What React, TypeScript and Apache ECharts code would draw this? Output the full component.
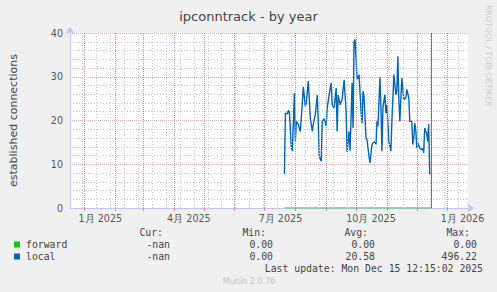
import React, { useEffect, useRef } from 'react';
import * as echarts from 'echarts';

// ---------- data ----------
const title = 'ipconntrack - by year';
const yAxisName = 'established connections';
const watermark = 'RRDTOOL / TOBI OETIKER';
const lastUpdate = 'Last update: Mon Dec 15 12:15:02 2025';
const footer = 'Munin 2.0.76';

const yMin = 0;
const yMax = 40;
const yInterval = 10;

// graph window (400 days)
const rangeStart = '2024-12-17T12:00:00Z';
const rangeDays = 400;
const nowTime = '2025-12-15T12:15:02Z';

const xLabelDates = ['2025-01-17', '2025-04-16', '2025-07-17', '2025-10-16', '2026-01-16'];
const xLabelTexts = ['1月 2025', '4月 2025', '7月 2025', '10月 2025', '1月 2026'];
const monthLineDates = [
  '2025-01-01', '2025-02-01', '2025-03-01', '2025-04-01', '2025-05-01', '2025-06-01', '2025-07-01',
  '2025-08-01', '2025-09-01', '2025-10-01', '2025-11-01', '2025-12-01', '2026-01-01',
];
const minorLineFirst = '2024-12-30';
const minorLineStepDays = 14;

const localDates = [
  '2025-07-21', '2025-07-22', '2025-07-24', '2025-07-25', '2025-07-26', '2025-07-28', '2025-07-29', '2025-07-31', '2025-08-01', '2025-08-02',
  '2025-08-04', '2025-08-06', '2025-08-08', '2025-08-09', '2025-08-11', '2025-08-12', '2025-08-14', '2025-08-16', '2025-08-18', '2025-08-19',
  '2025-08-21', '2025-08-23', '2025-08-24', '2025-08-25', '2025-08-27', '2025-08-28', '2025-08-30', '2025-09-01', '2025-09-02', '2025-09-04',
  '2025-09-06', '2025-09-07', '2025-09-09', '2025-09-11', '2025-09-12', '2025-09-13', '2025-09-15', '2025-09-17', '2025-09-18', '2025-09-19',
  '2025-09-21', '2025-09-22', '2025-09-24', '2025-09-25', '2025-09-27', '2025-09-28', '2025-09-29', '2025-09-30', '2025-10-02', '2025-10-03',
  '2025-10-04', '2025-10-06', '2025-10-07', '2025-10-08', '2025-10-09', '2025-10-11', '2025-10-12', '2025-10-14', '2025-10-15', '2025-10-17',
  '2025-10-18', '2025-10-20', '2025-10-21', '2025-10-22', '2025-10-23', '2025-10-25', '2025-10-26', '2025-10-27', '2025-10-28', '2025-10-30',
  '2025-10-31', '2025-11-01', '2025-11-03', '2025-11-05', '2025-11-06', '2025-11-08', '2025-11-10', '2025-11-11', '2025-11-12', '2025-11-13',
  '2025-11-14', '2025-11-16', '2025-11-17', '2025-11-18', '2025-11-20', '2025-11-21', '2025-11-23', '2025-11-24', '2025-11-26', '2025-11-27',
  '2025-11-28', '2025-11-29', '2025-11-30', '2025-12-01', '2025-12-02', '2025-12-04', '2025-12-06', '2025-12-07', '2025-12-08', '2025-12-09',
  '2025-12-10', '2025-12-11', '2025-12-12', '2025-12-13', '2025-12-14', '2025-12-15',
];
const localValues = [
  7.8, 21.7, 21.5, 22.3, 21.9, 13.7, 13.0, 26.3, 15.2, 19.8,
  19.1, 17.5, 24.0, 27.7, 23.2, 24.2, 29.0, 20.6, 17.5, 19.1,
  21.3, 25.8, 19.8, 11.8, 10.7, 19.8, 20.4, 18.7, 22.9, 25.9,
  28.6, 23.6, 22.9, 27.4, 17.5, 25.8, 23.6, 24.8, 27.1, 29.3,
  22.1, 12.8, 17.5, 13.1, 28.6, 18.3, 38.1, 38.5, 29.7, 29.6,
  30.5, 22.1, 19.4, 26.7, 25.5, 16.0, 15.6, 11.8, 10.3, 14.5,
  14.9, 15.2, 14.5, 19.8, 18.7, 29.9, 22.9, 13.0, 22.9, 25.9,
  21.7, 23.6, 15.2, 13.0, 19.8, 30.5, 25.9, 26.7, 34.7, 25.1,
  19.8, 29.7, 27.1, 24.8, 25.1, 27.1, 25.1, 19.8, 19.8, 14.5,
  16.0, 19.4, 17.9, 13.7, 14.9, 13.7, 13.3, 13.7, 12.6, 18.3,
  17.5, 17.1, 15.2, 19.2, 7.8, 7.8,
];
const forwardDates = ['2025-07-21', '2025-12-15'];
const forwardValues = [0, 0];

const legendNames = ['forward', 'local'];
const legendColors = ['#00CC00', '#0066B3'];
const legendHeaders = ['Cur:', 'Min:', 'Avg:', 'Max:'];
const curValues = ['-nan', '-nan'];
const minValues = ['0.00', '0.00'];
const avgValues = ['0.00', '20.58'];
const maxValues = ['0.00', '496.22'];

// ---------- helpers ----------
const DAY = 86400000;
const toTime = (s: string) => (s.length === 10 ? Date.parse(s + 'T00:00:00Z') : Date.parse(s));

const RED_GRID_H = '#eca8a8';
const RED_GRID_V = '#e08a8a';
const GRAY_GRID = '#c4c4c4';
const AXIS_COLOR = '#c4c4f4';
const SANS = 'DejaVu Sans';
const MONO = 'DejaVu Sans Mono';
const TEXT = '#444';

export default function App() {
  const ref = useRef<HTMLDivElement>(null);

  useEffect(() => {
    if (!ref.current) return;
    const chart = echarts.init(ref.current, undefined, { renderer: 'svg' });

    const xMin = toTime(rangeStart);
    const xMax = xMin + rangeDays * DAY;
    const labelTimes = xLabelDates.map(toTime);
    const monthTimes = monthLineDates.map(toTime);
    const minorTimes: number[] = [];
    for (let t = toTime(minorLineFirst); t < xMax; t += minorLineStepDays * DAY) minorTimes.push(t);

    const gridLines: any[] = [];
    minorTimes.forEach((t) =>
      gridLines.push({ xAxis: t, lineStyle: { color: GRAY_GRID, type: [1, 2], width: 1 } })
    );
    monthTimes.forEach((t) =>
      gridLines.push({ xAxis: t, lineStyle: { color: RED_GRID_V, type: [1, 1], width: 1 } })
    );
    gridLines.push({ xAxis: toTime(nowTime), lineStyle: { color: '#777', type: 'solid', width: 1 } });

    const legendCols = [
      { values: curValues, right: 170 },
      { values: minValues, right: 273 },
      { values: avgValues, right: 375 },
      { values: maxValues, right: 477 },
    ];
    const headerRight = [163, 266, 368, 470];
    const rowY = [244.5, 256.5];

    const graphic: any[] = [];
    legendHeaders.forEach((h, i) =>
      graphic.push({
        type: 'text', x: headerRight[i], y: 232.5,
        style: { text: h, fill: TEXT, fontFamily: MONO, fontSize: 9.8, align: 'right', verticalAlign: 'middle' },
      })
    );
    legendNames.forEach((name, r) => {
      graphic.push({
        type: 'rect', shape: { x: 14, y: rowY[r] - 3, width: 6, height: 6 },
        style: { fill: legendColors[r] },
      });
      graphic.push({
        type: 'text', x: 26, y: rowY[r],
        style: { text: name, fill: TEXT, fontFamily: MONO, fontSize: 9.8, align: 'left', verticalAlign: 'middle' },
      });
      legendCols.forEach((c) =>
        graphic.push({
          type: 'text', x: c.right, y: rowY[r],
          style: { text: c.values[r], fill: TEXT, fontFamily: MONO, fontSize: 9.8, align: 'right', verticalAlign: 'middle' },
        })
      );
    });
    graphic.push({
      type: 'text', x: 483, y: 268.5,
      style: { text: lastUpdate, fill: TEXT, fontFamily: MONO, fontSize: 9.8, align: 'right', verticalAlign: 'middle' },
    });
    graphic.push({
      type: 'text', x: 249, y: 281,
      style: { text: footer, fill: '#c4c4c4', fontFamily: SANS, fontSize: 8, align: 'center', verticalAlign: 'middle' },
    });
    graphic.push({
      type: 'text', x: 488, y: 5, rotation: -Math.PI / 2,
      style: { text: watermark, fill: '#cccccc', fontFamily: SANS, fontSize: 7.9, align: 'left', verticalAlign: 'middle' },
    });

    chart.setOption({
      animation: false,
      backgroundColor: '#f0f0f0',
      title: {
        text: title,
        left: 'center',
        top: 5,
        textStyle: { color: '#444', fontFamily: SANS, fontSize: 13, fontWeight: 'normal' },
      },
      grid: {
        left: 67, right: 29, top: 33, bottom: 84,
        show: true, backgroundColor: '#ffffff', borderWidth: 0,
      },
      xAxis: {
        type: 'value',
        min: xMin,
        max: xMax,
        axisLine: {
          show: true,
          onZero: false,
          lineStyle: { color: AXIS_COLOR, width: 1 },
          symbol: ['none', 'arrow'],
          symbolSize: [7, 7],
          symbolOffset: [0, 6],
        },
        axisTick: {
          show: true,
          customValues: monthTimes,
          length: 3,
          lineStyle: { color: RED_GRID_V, width: 1 },
        },
        axisLabel: {
          customValues: labelTimes,
          margin: 5,
          color: '#555',
          fontFamily: SANS,
          fontSize: 9.6,
          formatter: (v: number) => {
            const i = labelTimes.indexOf(v);
            return i >= 0 ? xLabelTexts[i] : '';
          },
        },
        splitLine: { show: false },
      },
      yAxis: {
        type: 'value',
        min: yMin,
        max: yMax,
        interval: yInterval,
        name: yAxisName,
        nameLocation: 'middle',
        nameRotate: 90,
        nameGap: 51,
        nameTextStyle: { color: '#444', fontFamily: SANS, fontSize: 11 },
        axisLine: {
          show: true,
          lineStyle: { color: AXIS_COLOR, width: 1 },
          symbol: ['none', 'arrow'],
          symbolSize: [7, 7],
          symbolOffset: [0, 6],
        },
        axisTick: { show: false },
        axisLabel: { color: '#555', fontFamily: SANS, fontSize: 9.6, margin: 7 },
        splitLine: { show: true, lineStyle: { color: RED_GRID_H, type: [1, 1], width: 1 } },
        minorTick: { show: false, splitNumber: 5 },
        minorSplitLine: { show: true, lineStyle: { color: GRAY_GRID, type: [1, 2], width: 1 } },
      },
      graphic,
      series: [
        {
          name: legendNames[0],
          type: 'line',
          z: 2,
          showSymbol: false,
          data: forwardDates.map((d, i) => [toTime(d), forwardValues[i]]),
          lineStyle: { color: legendColors[0], width: 1 },
          itemStyle: { color: legendColors[0] },
          markLine: {
            silent: true,
            symbol: ['none', 'none'],
            label: { show: false },
            animation: false,
            data: gridLines,
          },
        },
        {
          name: legendNames[1],
          type: 'line',
          z: 3,
          showSymbol: false,
          data: localDates.map((d, i) => [toTime(d), localValues[i]]),
          lineStyle: { color: legendColors[1], width: 1.4 },
          itemStyle: { color: legendColors[1] },
        },
      ],
    });

    return () => chart.dispose();
  }, []);

  return (
    <div
      ref={ref}
      style={{ position: 'absolute', left: 0, top: 0, width: 497, height: 292 }}
    />
  );
}
